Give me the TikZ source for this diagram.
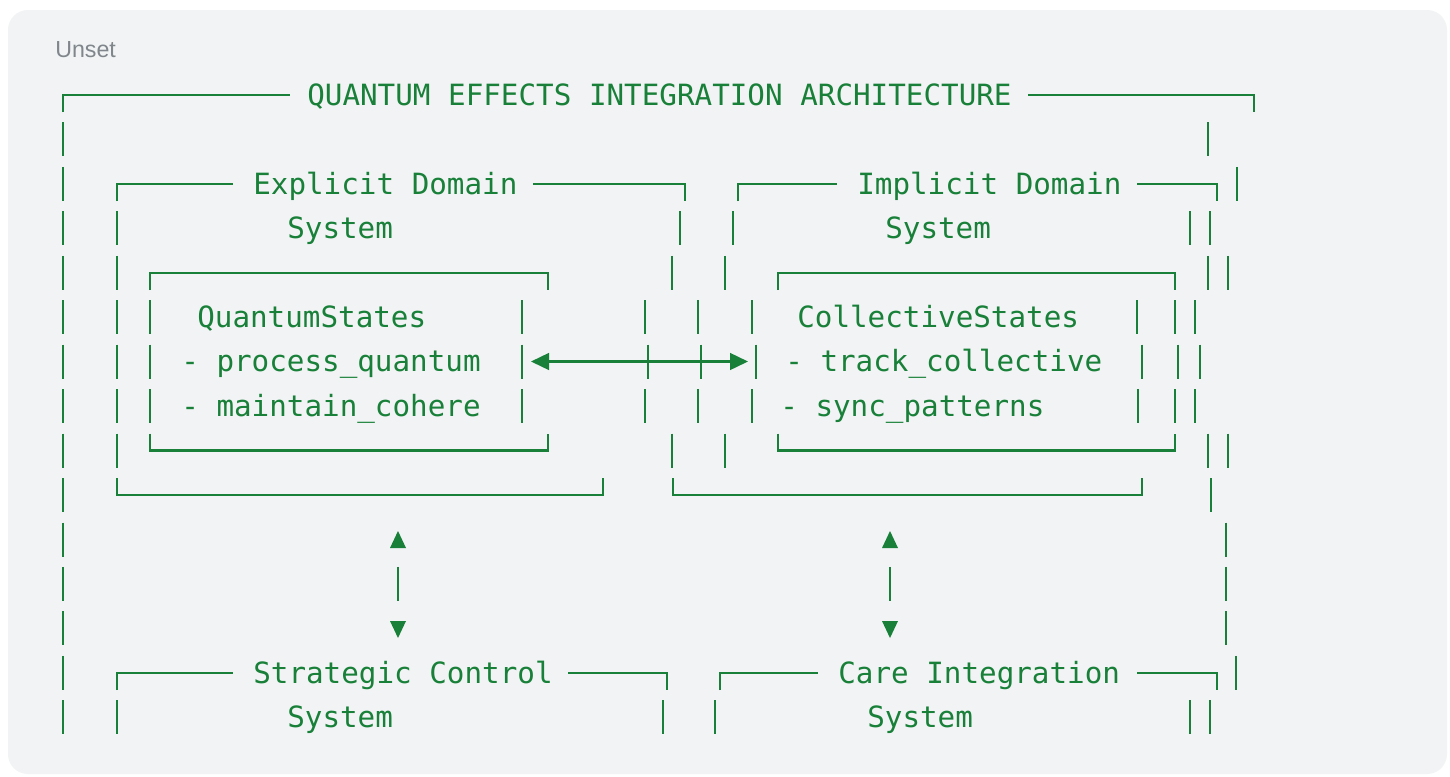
\documentclass[tikz,border=0pt]{standalone}
\usepackage{fontspec}
\setmonofont{DejaVu Sans Mono}
\newfontfamily\tagfont{Liberation Sans}
\usetikzlibrary{arrows.meta}
\definecolor{qgreen}{RGB}{24,128,56}
\definecolor{panelgray}{RGB}{241,243,244}
\definecolor{tagGray}{RGB}{128,134,139}
\tikzset{
  wire/.style={draw=qgreen,line width=1.5pt},
  txt/.style={anchor=base west,inner sep=0pt,text=qgreen,font=\ttfamily\fontsize{20.8}{24}\selectfont},
  tri/.style={fill=qgreen},
  dblarrow/.style={wire,{Triangle[length=0.45cm,width=0.42cm]}-{Triangle[length=0.45cm,width=0.42cm]}}
}
\begin{document}
\begin{tikzpicture}[x=0.025cm,y=-0.025cm]
	\useasboundingbox (0,0) rectangle (1450,776);
	\fill[white] (0,0) rectangle (1450,776);
	\fill[panelgray,rounded corners=0.5cm] (8,10) rectangle (1447,774);
	\node[anchor=base west,inner sep=0pt,text=tagGray,font=\tagfont\fontsize{16.5}{20}\selectfont] (tag) at (55,57.5) {Unset};
	\node[txt] (title) at (307,105) {QUANTUM EFFECTS INTEGRATION ARCHITECTURE};
	\node[txt] (explicit) at (253,194) {Explicit Domain};
	\node[txt] (explicitsys) at (287,238.5) {System};
	\node[txt] (implicit) at (857,194) {Implicit Domain};
	\node[txt] (implicitsys) at (885,238.5) {System};
	\node[txt] (quantum) at (197,327) {QuantumStates};
	\node[txt] (qprocess) at (181,371.5) {- process\_quantum};
	\node[txt] (qcohere) at (181,416) {- maintain\_cohere};
	\node[txt] (collective) at (797,327) {CollectiveStates};
	\node[txt] (ctrack) at (785,371.5) {- track\_collective};
	\node[txt] (csync) at (780,416) {- sync\_patterns};
	\node[txt] (strategic) at (253,683) {Strategic Control};
	\node[txt] (strategicsys) at (287,727.5) {System};
	\node[txt] (care) at (838,683) {Care Integration};
	\node[txt] (caresys) at (867,727.5) {System};
	\draw[wire](63,112)--(63,95)--(290,95);
	\draw[wire](1028,95)--(1254,95)--(1254,112);
	\draw[wire](117,201)--(117,184)--(233,184);
	\draw[wire](533,184)--(685,184)--(685,201);
	\draw[wire](738,201)--(738,184)--(837,184);
	\draw[wire](1137,184)--(1217,184)--(1217,201);
	\draw[wire](150,290)--(150,273)--(548,273)--(548,290);
	\draw[wire](778,290)--(778,273)--(1175,273)--(1175,290);
	\draw[wire](150,433.5)--(150,450.5)--(548,450.5)--(548,433.5);
	\draw[wire](778,433.5)--(778,450.5)--(1175,450.5)--(1175,433.5);
	\draw[wire](117,478)--(117,495)--(603,495)--(603,478);
	\draw[wire](673,478)--(673,495)--(1142,495)--(1142,478);
	\draw[wire](117,690)--(117,673)--(233,673);
	\draw[wire](568,673)--(667,673)--(667,690);
	\draw[wire](720,690)--(720,673)--(818,673);
	\draw[wire](1137,673)--(1217,673)--(1217,690);
	\foreach \r in {2,...,15}
		\draw[wire](63,{95+44.45*(\r-1)-17})--(63,{95+44.45*(\r-1)+17});
	\foreach \x/\r in {1208/2,1237/3,1210/4,1228/5,1195/6,1200/7,1195/8,1228/9,1211/10,1226/11,1226/12,1226/13,1236/14,1210/15,
		117/4,117/5,117/6,117/7,117/8,117/9,680/4,672/5,645/6,648/7,645/8,672/9,
		150/6,150/7,150/8,522/6,522/7,522/8,
		733/4,725/5,698/6,701/7,698/8,725/9,1190/4,1208/5,1175/6,1178/7,1175/8,1208/9,
		752/6,756/7,752/8,1137/6,1142/7,1138/8,
		117/15,663/15,715/15,1190/15,398/12,890/12}
		\draw[wire](\x,{95+44.45*(\r-1)-17})--(\x,{95+44.45*(\r-1)+17});
	\coordinate (qbox-e) at (531,361.5);
	\coordinate (cbox-w) at (748,361.5);
	\draw[dblarrow](qbox-e)--(cbox-w);
	\foreach \x in {398,890}{
		\fill[tri](\x,531)--(\x+8,548)--(\x-8,548)--cycle;
		\fill[tri](\x-8,621)--(\x+8,621)--(\x,638)--cycle;
	}
\end{tikzpicture}
\end{document}
